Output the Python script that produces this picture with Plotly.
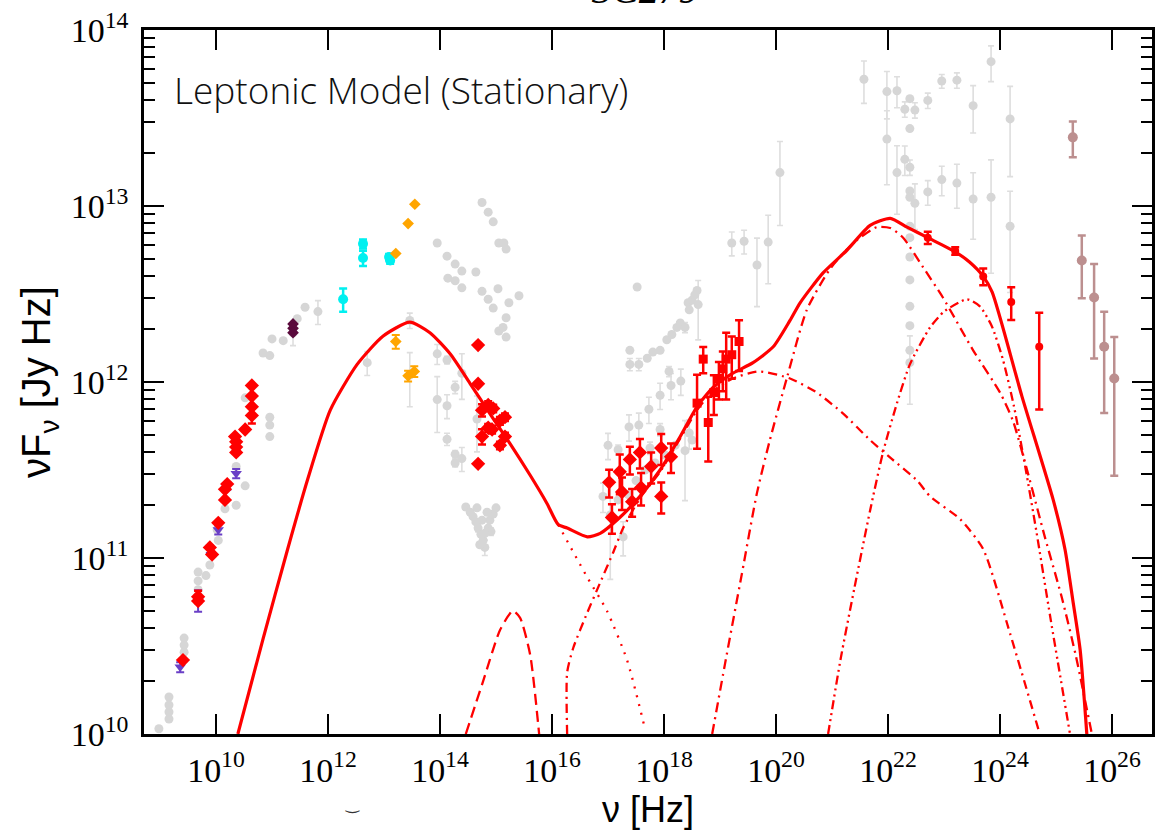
import numpy as np
import plotly.graph_objects as go

# ---------------- model curves: log10(nu / Hz), log10(nuFnu / Jy Hz) ----------------
total_lognu = [10.39, 10.84, 11.27, 11.63, 12.04, 12.52, 12.98, 13.46, 13.82, 14.18, 14.54,
               14.89, 15.25, 15.61, 15.91, 16.11, 16.27, 16.63, 16.86, 17.21, 17.57, 17.93,
               18.29, 18.59, 18.88, 19.23, 19.59, 19.95, 20.25, 20.43, 20.84, 21.27, 21.68,
               22.04, 22.34, 22.71, 23.20, 23.46, 23.70, 23.86, 24.39, 24.95, 25.16, 25.30,
               25.43, 25.55]
total_logflux = [10.0, 10.54, 11.04, 11.44, 11.84, 12.10, 12.26, 12.34, 12.28, 12.16, 11.99,
                 11.82, 11.65, 11.47, 11.31, 11.19, 11.17, 11.12, 11.14, 11.23, 11.35, 11.50,
                 11.69, 11.86, 11.97, 12.05, 12.11, 12.20, 12.35, 12.45, 12.62, 12.75, 12.89,
                 12.93, 12.88, 12.82, 12.74, 12.68, 12.60, 12.51, 11.92, 11.33, 11.05, 10.76,
                 10.48, 10.0]

sync_lognu = [16.11, 16.63, 16.98, 17.34, 17.66]
sync_logflux = [11.19, 10.89, 10.70, 10.42, 10.03]

disk_lognu = [14.46, 14.77, 15.07, 15.30, 15.43, 15.61, 15.77]
disk_logflux = [10.0, 10.30, 10.59, 10.70, 10.66, 10.45, 10.0]

ssc_lognu = [16.27, 16.27, 16.38, 16.63, 16.86, 17.09, 17.27, 17.57, 17.93, 18.29, 18.59,
             18.88, 19.23, 19.70, 20.25, 20.73, 21.20, 21.68, 22.04, 22.52, 22.75, 23.29,
             23.70, 24.18, 24.71]
ssc_logflux = [10.0, 10.35, 10.49, 10.69, 10.86, 11.03, 11.17, 11.34, 11.49, 11.68, 11.84,
               11.95, 12.02, 12.06, 12.02, 11.94, 11.82, 11.67, 11.57, 11.44, 11.35, 11.22,
               11.05, 10.57, 10.0]

ec_lognu = [18.86, 19.09, 19.39, 19.66, 19.89, 20.20, 20.55, 20.96, 21.38, 21.80, 22.04,
            22.27, 22.63, 22.98, 23.52, 24.0, 24.23, 24.5, 24.8, 25.1, 25.35, 25.64]
ec_logflux = [10.0, 10.40, 10.91, 11.37, 11.67, 12.03, 12.41, 12.64, 12.79, 12.88, 12.875,
              12.82, 12.65, 12.48, 12.18, 11.94, 11.78, 11.48, 11.12, 10.78, 10.45, 10.0]

blr_lognu = [20.93, 21.15, 21.40, 21.68, 21.91, 22.16, 22.39, 22.75, 23.0, 23.41, 23.64,
             23.85, 24.05, 24.25, 24.45, 24.65, 24.9, 25.25]
blr_logflux = [10.0, 10.42, 10.83, 11.27, 11.60, 11.88, 12.10, 12.31, 12.40, 12.47, 12.43,
               12.32, 12.13, 11.86, 11.52, 11.15, 10.66, 10.0]

# ---------------- archival data (grey) ----------------
grey_radio_lognu = [8.98, 9.16, 9.16, 9.16, 9.16, 9.43, 9.43, 9.43, 9.68, 9.68, 9.68, 9.82,
                    9.89, 10.04, 10.02, 10.16, 10.36, 10.36, 10.52, 10.52, 10.84, 10.96, 11.0,
                    11.2, 10.96, 10.96, 10.96, 11.45, 11.59, 11.82, 11.375, 12.70, 13.46, 13.46]
grey_radio_logflux = [10.03, 10.21, 10.165, 10.125, 10.085, 10.545, 10.505, 10.465, 10.92,
                      10.87, 10.82, 10.90, 10.96, 11.10, 11.16, 11.28, 11.30, 11.52, 11.41,
                      11.91, 12.165, 12.15, 12.245, 12.235, 11.80, 11.755, 11.69, 12.36,
                      12.425, 12.40, 12.28, 12.11, 12.35, 12.04]
grey_radio_relerr = [0] * 29 + [0.155, 0.155, 0.155, 0.10, 0.34]

grey_opt_lognu = [14.75, 14.86, 14.95, 13.95, 15.05, 15.14, 15.18, 14.125, 14.27, 14.39, 14.64,
                  14.14, 14.27, 14.39, 14.75, 15.035, 14.86, 15.41, 15.23, 14.95, 15.18, 15.05,
                  15.125, 15.18,
                  13.95, 14.125, 14.39, 14.27, 13.95, 14.125, 14.125, 14.27, 14.27, 14.39, 14.66,
                  14.46, 14.54, 14.59, 14.64, 14.68, 14.73, 14.77, 14.80, 14.71, 14.86, 14.89,
                  14.95, 15.0, 14.84, 14.75, 14.66, 14.91, 14.80]
grey_opt_logflux = [13.02, 12.965, 12.91, 12.79, 12.79, 12.79, 12.755, 12.715, 12.67, 12.63,
                    12.625, 12.59, 12.575, 12.535, 12.515, 12.53, 12.47, 12.49, 12.45, 12.42,
                    12.365, 12.29, 12.31, 12.255,
                    12.16, 12.125, 12.05, 11.97, 11.90, 11.865, 11.675, 11.59, 11.54, 11.565,
                    11.79,
                    11.29, 11.26, 11.235, 11.205, 11.17, 11.135, 11.10, 11.06, 11.075, 11.17,
                    11.215, 11.25, 11.285, 11.26, 11.215, 11.285, 11.15, 11.14]
grey_opt_relerr = [0] * 24 + [0.13, 0.05, 0.29, 0.08, 0.35, 0.155, 0.08, 0.05, 0.05, 0.155,
                              0.35,
                              0, 0, 0, 0, 0.05, 0, 0.06, 0.1, 0, 0, 0, 0, 0, 0, 0, 0, 0.05, 0]

grey_xray_lognu = [17.52, 17.39, 17.39, 17.55, 17.70, 17.80, 17.93, 18.05, 18.14, 18.23, 18.29,
                   18.375, 18.43, 18.5, 18.55, 18.59, 18.61, 18.45,
                   17.0, 17.18, 17.375, 17.55, 17.73, 17.93, 18.09, 18.125, 18.30, 18.45, 17.75,
                   17.93, 17.27, 17.04, 17.18, 17.36, 17.5, 17.66, 17.84, 18.02, 18.2, 18.375,
                   18.5, 16.91,
                   19.21, 19.43, 19.66, 19.86, 20.07]
grey_xray_logflux = [12.54, 12.18, 12.10, 12.10, 12.135, 12.17, 12.18, 12.24, 12.27, 12.31,
                     12.335, 12.31, 12.45, 12.465, 12.495, 12.52, 12.44, 12.41,
                     11.64, 11.615, 11.745, 11.755, 11.845, 11.925, 12.06, 11.98, 12.005, 11.71,
                     11.625, 11.73, 11.12, 11.245, 11.33, 11.36, 11.44, 11.5, 11.54, 11.585,
                     11.64, 11.61, 11.67, 11.35,
                     12.79, 12.80, 12.665, 12.795, 13.19]
grey_xray_relerr = [0, 0, 0.08, 0.08, 0, 0, 0, 0, 0, 0, 0, 0.065, 0, 0, 0, 0, 0.37, 0,
                    0.17, 0.065, 0.17, 0.17, 0.17, 0.17, 0.065, 0.17, 0.17, 0.19, 0.08, 0.08,
                    0.22, 0.57, 0, 0, 0, 0, 0, 0, 0, 0.48, 0, 0.19,
                    0.155, 0.155, 0.42, 0.42, 0.5]

grey_gamma_lognu = [21.57, 21.98, 21.98, 22.16, 22.16, 22.30, 22.30, 22.39, 22.39, 22.39, 22.48,
                    22.39, 22.39, 22.48, 22.39, 22.39, 22.39, 22.39, 22.39, 22.39, 22.39, 22.39,
                    22.71, 22.71, 22.96, 22.96, 23.23, 23.23, 23.52, 23.52, 23.84, 23.84, 24.18,
                    24.18]
grey_gamma_logflux = [13.72, 13.65, 13.38, 13.655, 13.19, 13.55, 13.265, 13.61, 13.44, 13.22,
                      13.545, 13.085, 13.05, 13.015, 12.885, 12.82, 12.71, 12.58, 12.43, 12.32,
                      12.18, 12.11, 13.60, 13.08, 13.71, 13.15, 13.715, 13.13, 13.57, 13.04,
                      13.82, 13.05, 13.495, 12.885]
grey_gamma_relerr = [0.27, 0.3, 0.45, 0.2, 0.42, 0.1, 0.19, 0, 0, 0.1, 0.1, 0, 0, 0.29, 0, 0,
                     0, 0, 0, 0, 0, 0.42, 0.1, 0.16, 0.09, 0.19, 0.1, 0.28, 0.3, 0.41, 0.23,
                     0.63, 0.53, 0.58]

# ---------------- campaign data ----------------
red_diamond_lognu = [9.41, 9.68, 9.68, 9.89, 9.93, 10.04, 10.16, 10.16, 10.20, 10.34, 10.36,
                     10.36, 10.36, 10.52, 10.64, 10.64, 10.64, 10.64,
                     14.68, 14.68, 14.68, 14.75, 14.86, 14.95, 14.75, 14.86, 14.93, 15.07, 15.16,
                     15.07, 15.16,
                     17.02, 17.07, 17.21, 17.25, 17.39, 17.43, 17.57, 17.59, 17.77, 17.95, 17.95,
                     18.125]
red_diamond_logflux = [10.42, 10.78, 10.755, 11.06, 11.02, 11.20, 11.33, 11.39, 11.42, 11.69,
                       11.66, 11.63, 11.60, 11.73, 11.98, 11.92, 11.86, 11.81,
                       12.21, 11.99, 11.535, 11.84, 11.87, 11.85, 11.69, 11.74, 11.73, 11.78,
                       11.80, 11.64, 11.69,
                       11.43, 11.23, 11.49, 11.375, 11.56, 11.32, 11.60, 11.40, 11.52, 11.625,
                       11.35, 11.575]
red_diamond_relerr = [0, 0.08, 0, 0, 0, 0, 0, 0, 0, 0, 0, 0, 0, 0, 0, 0, 0, 0.1,
                      0, 0, 0, 0.08, 0.05, 0.05, 0.1, 0.05, 0.05, 0.05, 0.05, 0.05, 0.05,
                      0.18, 0.19, 0.255, 0.21, 0.18, 0.18, 0.19, 0.21, 0.2, 0.2, 0.2, 0.19]

red_square_lognu = [18.59, 18.70, 18.79, 18.89, 18.98, 19.05, 19.11, 19.21, 19.34]
red_square_logflux = [11.88, 12.13, 11.77, 11.94, 12.02, 12.075, 12.13, 12.155, 12.23]
red_square_relerr = [0.45, 0.17, 0.4, 0.255, 0.24, 0.255, 0.41, 0.27, 0.32]

red_circle_lognu = [22.71, 23.20, 23.70, 24.20, 24.70]
red_circle_logflux = [12.82, 12.745, 12.60, 12.455, 12.20]
red_circle_relerr = [0.08, 0.05, 0.11, 0.21, 0.56]

purple_lognu = [9.36, 9.68, 9.89, 10.04, 10.20, 10.36]
purple_logflux = [10.38, 10.76, 11.05, 11.16, 11.41, 11.48]
purple_relerr = [0.065, 0.14, 0.05, 0.06, 0.05, 0.06]

cyan_lognu = [12.27, 12.625, 12.625, 13.09, 13.11]
cyan_logflux = [12.47, 12.785, 12.705, 12.71, 12.69]
cyan_relerr = [0.15, 0.06, 0.1, 0.04, 0.04]

orange_lognu = [13.21, 13.43, 13.55, 13.21, 13.43, 13.54]
orange_logflux = [12.73, 12.90, 13.01, 12.23, 12.035, 12.06]
orange_relerr = [0, 0, 0, 0.09, 0.07, 0.07]

maroon_lognu = [11.375, 11.375, 11.375]
maroon_logflux = [12.33, 12.305, 12.28]

rosy_lognu = [25.30, 25.46, 25.68, 25.86, 26.04]
rosy_logflux = [13.39, 12.69, 12.48, 12.20, 12.02]
rosy_relerr = [0.23, 0.39, 0.55, 0.58, 0.72]

x_tick_exp = [10, 12, 14, 16, 18, 20, 22, 24, 26]
y_tick_exp = [10, 11, 12, 13, 14]

RED = "#ff0000"
GREY = "#d6d6d6"
GREY_ERR = "#dedede"

fig = go.Figure()


def add_points(lognu, logflux, relerr, symbol, size, color, ecolor, ethick, cap):
    x = 10 ** np.asarray(lognu, dtype=float)
    y = 10 ** np.asarray(logflux, dtype=float)
    rel = np.asarray(relerr, dtype=float)
    err = np.where(rel > 0, rel * y, np.nan)
    fig.add_trace(go.Scatter(
        x=x, y=y, mode="markers",
        marker=dict(symbol=symbol, size=size, color=color, line=dict(width=0)),
        error_y=dict(type="data", array=err, visible=True, color=ecolor,
                     thickness=ethick, width=cap),
        hoverinfo="skip", showlegend=False))


def add_curve(lognu, logflux, dash, width):
    fig.add_trace(go.Scatter(
        x=10 ** np.asarray(lognu, dtype=float), y=10 ** np.asarray(logflux, dtype=float),
        mode="lines", line=dict(color=RED, width=width, dash=dash, shape="spline",
                                smoothing=0.6),
        hoverinfo="skip", showlegend=False))


# archival data underneath everything
for ln, lf, le in [(grey_radio_lognu, grey_radio_logflux, grey_radio_relerr),
                   (grey_opt_lognu, grey_opt_logflux, grey_opt_relerr),
                   (grey_xray_lognu, grey_xray_logflux, grey_xray_relerr),
                   (grey_gamma_lognu, grey_gamma_logflux, grey_gamma_relerr)]:
    add_points(ln, lf, le, "circle", 9, GREY, GREY_ERR, 1.6, 3)

# model components
add_curve(disk_lognu, disk_logflux, "11px,6px", 2.3)
add_curve(sync_lognu, sync_logflux, "2px,7px", 2.3)
add_curve(ssc_lognu, ssc_logflux, "9px,5px,2px,5px", 2.3)
add_curve(ec_lognu, ec_logflux, "10px,5px,2px,5px", 2.3)
add_curve(blr_lognu, blr_logflux, "9px,4px,2px,4px,2px,4px", 2.3)
add_curve(total_lognu, total_logflux, "solid", 3.2)

# multiwavelength campaign data
add_points(purple_lognu, purple_logflux, purple_relerr, "triangle-down", 10, "#6a3fc6",
           "#6a3fc6", 2, 4)
add_points(red_diamond_lognu, red_diamond_logflux, red_diamond_relerr, "diamond", 11, RED,
           RED, 2.5, 4)
add_points(red_square_lognu, red_square_logflux, red_square_relerr, "square", 9, RED,
           RED, 2.5, 4)
add_points(red_circle_lognu, red_circle_logflux, red_circle_relerr, "circle", 8, RED,
           RED, 2.5, 4)
add_points(cyan_lognu, cyan_logflux, cyan_relerr, "circle", 10, "#00f0f0", "#00f0f0", 2.5, 4)
add_points(orange_lognu, orange_logflux, orange_relerr, "diamond", 9, "#ffa500", "#ffa500",
           2, 4)
add_points(maroon_lognu, maroon_logflux, [0, 0, 0], "diamond", 9, "#5a0a3c", "#5a0a3c", 2, 4)
add_points(rosy_lognu, rosy_logflux, rosy_relerr, "circle", 10, "#bc8f8f", "#bc8f8f", 2.5, 4)

tick_font = dict(family="Liberation Serif, Times New Roman, serif", size=34, color="black")
xtitle_font = dict(family="Liberation Sans, Arial, sans-serif", size=36, color="black")
ytitle_font = dict(family="Liberation Sans, Arial, sans-serif", size=40, color="black")

fig.update_xaxes(
    type="log", range=[8.714, 26.714],
    tickmode="array", tickvals=[10.0 ** e for e in x_tick_exp],
    ticktext=[f"10<sup>{e}</sup>" for e in x_tick_exp],
    ticks="inside", ticklen=20, tickwidth=2, tickcolor="black",
    showline=True, linewidth=2.5, linecolor="black", mirror="allticks",
    showgrid=False, zeroline=False, tickfont=tick_font, ticklabelstandoff=4,
    title=dict(text="ν [Hz]", font=xtitle_font, standoff=0),
)
fig.update_yaxes(
    type="log", range=[10, 14],
    tickmode="array", tickvals=[10.0 ** e for e in y_tick_exp],
    ticktext=[f"10<sup>{e}</sup>" for e in y_tick_exp],
    ticks="inside", ticklen=20, tickwidth=2, tickcolor="black",
    minor=dict(tickmode="array",
               tickvals=[k * 10.0 ** e for e in y_tick_exp[:-1] for k in range(2, 10)],
               ticks="inside", ticklen=11, tickwidth=2, tickcolor="black", showgrid=False),
    showline=True, linewidth=2.5, linecolor="black", mirror="allticks",
    showgrid=False, zeroline=False, tickfont=tick_font, ticklabelstandoff=6,
    title=dict(text="νF<sub>ν</sub> [Jy Hz]", font=ytitle_font, standoff=8),
)

fig.add_annotation(
    text="Leptonic Model (Stationary)", xref="paper", yref="paper",
    x=0.0278, y=0.915, xanchor="left", yanchor="middle", showarrow=False,
    font=dict(family="Open Sans, Liberation Sans, sans-serif", size=37, color="#111111",
              weight=300),
)
fig.add_annotation(
    text="3C279", xref="paper", yref="paper", x=0.497, y=1.0227,
    xanchor="center", yanchor="bottom", showarrow=False,
    font=dict(family="Liberation Serif, serif", size=40, color="black", style="italic"),
)
# small mark below the frequency axis
fig.add_annotation(
    text="‿", xref="paper", yref="paper", x=0.207, y=-0.1,
    xanchor="center", yanchor="middle", showarrow=False,
    font=dict(family="DejaVu Sans, sans-serif", size=16, color="#333333"),
)

fig.update_layout(
    width=1168, height=830,
    margin=dict(l=144, r=16, t=30, b=96, autoexpand=False),
    paper_bgcolor="white", plot_bgcolor="white",
    showlegend=False,
)

fig.write_html("out.html")
